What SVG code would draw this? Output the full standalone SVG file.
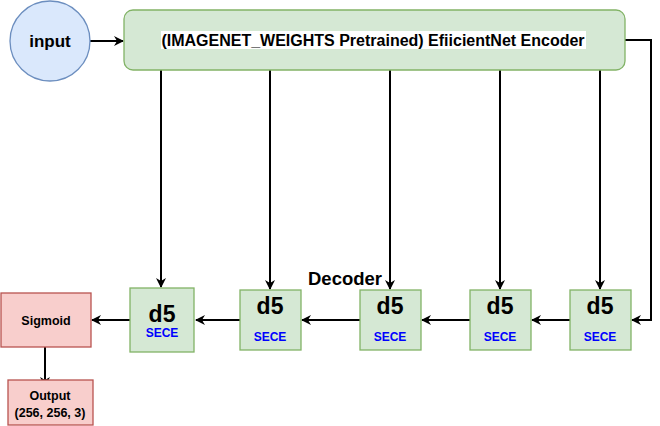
<svg xmlns="http://www.w3.org/2000/svg" width="660" height="426" viewBox="0 0 660 426">
<style>
text{font-family:"Liberation Sans",Arial,sans-serif;font-weight:bold;text-anchor:middle}
.g{fill:#d5e8d4;stroke:#82b366;stroke-width:1.3}
.r{fill:#f8cecc;stroke:#b85450;stroke-width:1.3}
.c{fill:none;stroke:#000;stroke-width:2}
.d5{font-size:23px;fill:#000}
.se{font-size:12px;fill:#0000ff}
.s{font-size:12.5px;fill:#000}
</style>
<defs>
<marker id="ah" viewBox="0 0 10 10" refX="9" refY="5" markerWidth="5" markerHeight="5" orient="auto" markerUnits="strokeWidth">
<path d="M0,0 L10,5 L0,10 L3,5 Z" fill="#000"/>
</marker>
</defs>
<g id="connectors">
<line class="c" x1="90" y1="41" x2="123" y2="41" marker-end="url(#ah)"/>
<line class="c" x1="161" y1="70" x2="161" y2="287" marker-end="url(#ah)"/>
<line class="c" x1="270" y1="70" x2="270" y2="289" marker-end="url(#ah)"/>
<line class="c" x1="390" y1="70" x2="390" y2="289" marker-end="url(#ah)"/>
<line class="c" x1="500" y1="70" x2="500" y2="289" marker-end="url(#ah)"/>
<line class="c" x1="600" y1="70" x2="600" y2="289" marker-end="url(#ah)"/>
<polyline class="c" points="625,40 651,40 651,320 632,320" marker-end="url(#ah)"/>
<line class="c" x1="570" y1="320" x2="532" y2="320" marker-end="url(#ah)"/>
<line class="c" x1="470" y1="320" x2="422" y2="320" marker-end="url(#ah)"/>
<line class="c" x1="360" y1="320" x2="302" y2="320" marker-end="url(#ah)"/>
<line class="c" x1="240" y1="320" x2="196" y2="320" marker-end="url(#ah)"/>
<line class="c" x1="130" y1="320" x2="92" y2="320" marker-end="url(#ah)"/>
<line class="c" x1="45" y1="347" x2="45" y2="386" marker-end="url(#ah)"/>
</g>
<g id="input">
<circle cx="50" cy="41" r="40" fill="#dae8fc" stroke="#6c8ebf" stroke-width="1.3"/>
<text x="50" y="47" font-size="17" fill="#000">input</text>
</g>
<g id="encoder">
<rect class="g" x="124" y="10" width="501" height="60" rx="9"/>
<rect x="161" y="31" width="425" height="18" fill="#fff"/>
<text x="373" y="46" font-size="16" fill="#000">(IMAGENET_WEIGHTS Pretrained) EfiicientNet Encoder</text>
</g>
<g id="decoder-label">
<text x="345" y="285" font-size="18.5" fill="#000">Decoder</text>
</g>
<g id="d5-1">
<rect class="g" x="130" y="288" width="64" height="64"/>
<text class="d5" x="162" y="322">d5</text>
<text class="se" x="162" y="337">SECE</text>
</g>
<g id="d5-2">
<rect class="g" x="240" y="290" width="61" height="60"/>
<text class="d5" x="270" y="314">d5</text>
<text class="se" x="270" y="341">SECE</text>
</g>
<g id="d5-3">
<rect class="g" x="360" y="290" width="61" height="60"/>
<text class="d5" x="390" y="314">d5</text>
<text class="se" x="390" y="341">SECE</text>
</g>
<g id="d5-4">
<rect class="g" x="470" y="290" width="61" height="60"/>
<text class="d5" x="500" y="314">d5</text>
<text class="se" x="500" y="341">SECE</text>
</g>
<g id="d5-5">
<rect class="g" x="570" y="290" width="61" height="60"/>
<text class="d5" x="600" y="314">d5</text>
<text class="se" x="600" y="341">SECE</text>
</g>
<g id="sigmoid">
<rect class="r" x="1" y="293" width="90" height="54"/>
<text class="s" x="46" y="325">Sigmoid</text>
</g>
<g id="output">
<rect class="r" x="8" y="380" width="85" height="45"/>
<text class="s" x="50" y="400">Output</text>
<text class="s" x="50" y="417">(256, 256, 3)</text>
</g>
</svg>
